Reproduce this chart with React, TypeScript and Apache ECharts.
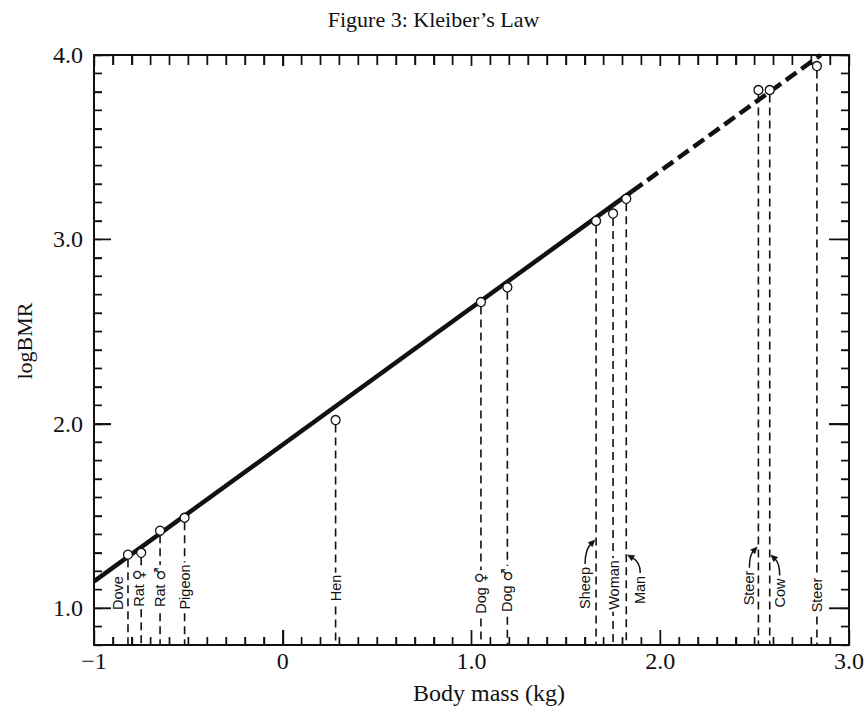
import React, { useEffect, useRef } from "react";
import * as echarts from "echarts";

// ---- data ----
const speciesNames = ["Dove", "Rat ♀", "Rat ♂", "Pigeon", "Hen", "Dog ♀", "Dog ♂", "Sheep", "Woman", "Man", "Steer", "Cow", "Steer"];
const bodyMass = [-0.82, -0.75, -0.65, -0.52, 0.28, 1.05, 1.19, 1.66, 1.75, 1.82, 2.52, 2.58, 2.83];
const logBMR = [1.29, 1.3, 1.42, 1.49, 2.02, 2.66, 2.74, 3.1, 3.14, 3.22, 3.81, 3.81, 3.94];

const fitSolidX = [-1, 1.85];
const fitSolidY = [1.145, 3.26];
const fitDashX = [1.85, 2.85];
const fitDashY = [3.26, 4.0];

const xTickValues = [-1, 0, 1, 2, 3];
const xTickLabels = ["−1", "0", "1.0", "2.0", "3.0"];
const yTickValues = [1, 2, 3, 4];
const yTickLabels = ["1.0", "2.0", "3.0", "4.0"];

const X_MIN = -1;
const X_MAX = 3;
const Y_MIN = 0.8;
const Y_MAX = 4;
const MINOR_STEP = 0.1;

// ---- annotation layout (pixels) ----
const labelLayout = [
  { dx: -9.5, rise: 52, arrow: 0 },
  { dx: -2.5, rise: 57, arrow: 0 },
  { dx: 0, rise: 58, arrow: 0 },
  { dx: 0, rise: 58, arrow: 0 },
  { dx: 0, rise: 57, arrow: 0 },
  { dx: 0, rise: 52, arrow: 0 },
  { dx: 0, rise: 55, arrow: 0 },
  { dx: -11, rise: 57, arrow: 105 },
  { dx: 1, rise: 60, arrow: 0 },
  { dx: 14, rise: 55, arrow: 90 },
  { dx: -9, rise: 57, arrow: 98 },
  { dx: 10, rise: 52, arrow: 90 },
  { dx: 0, rise: 50, arrow: 0 },
];

const TICK = { bottomMajor: 15, bottomMinor: 8, topMajor: 11, topMinor: 10, leftMajor: 17, leftMinor: 8, rightMajor: 20, rightMinor: 8 };

const INK = "#111";
const sansFamily = '"Liberation Sans", "DejaVu Sans", sans-serif';
const labelSize = 14.5;
const symbolFamily = '"DejaVu Sans", sans-serif';
const symbolSize = 15;
const serif = '"Liberation Serif", "DejaVu Serif", serif';

function splitName(name: string): [string, string] {
  const k = name.search(/[♀♂]/);
  if (k < 0) return [name, ""];
  return [name.slice(0, k), name.slice(k)];
}

function measure(name: string): number {
  const c = document.createElement("canvas").getContext("2d");
  const [a, b] = splitName(name);
  if (!c) return name.length * 8;
  c.font = `${labelSize}px ${sansFamily}`;
  let w = c.measureText(a).width;
  if (b) {
    c.font = `${symbolSize}px ${symbolFamily}`;
    w += c.measureText(b).width;
  }
  return w;
}

function frame() {
  return { show: true, onZero: false, lineStyle: { color: INK, width: 2 } };
}

// inward tick marks on the four sides, drawn as thin filled rects placed through the axes' scales
function frameTicks(api: any): any[] {
  const out: any[] = [];
  const yb = api.coord([X_MIN, Y_MIN])[1];
  const yt = api.coord([X_MIN, Y_MAX])[1];
  const xl = api.coord([X_MIN, Y_MIN])[0];
  const xr = api.coord([X_MAX, Y_MIN])[0];
  const w = 1.4;
  const nx = Math.round((X_MAX - X_MIN) / MINOR_STEP);
  for (let k = 1; k < nx; k++) {
    const v = X_MIN + k * MINOR_STEP;
    const major = Math.abs(v - Math.round(v)) < 1e-6;
    const px = api.coord([v, Y_MIN])[0];
    const lb = major ? TICK.bottomMajor : TICK.bottomMinor;
    const lt = major ? TICK.topMajor : TICK.topMinor;
    out.push({ type: "rect", shape: { x: px - w / 2, y: yb - lb, width: w, height: lb }, style: { fill: INK } });
    out.push({ type: "rect", shape: { x: px - w / 2, y: yt, width: w, height: lt }, style: { fill: INK } });
  }
  const ny = Math.round((Y_MAX - Y_MIN) / MINOR_STEP);
  for (let k = 1; k < ny; k++) {
    const v = Y_MIN + k * MINOR_STEP;
    const major = Math.abs(v - Math.round(v)) < 1e-6;
    const py = api.coord([X_MIN, v])[1];
    const ll = major ? TICK.leftMajor : TICK.leftMinor;
    const lr = major ? TICK.rightMajor : TICK.rightMinor;
    out.push({ type: "rect", shape: { x: xl, y: py - w / 2, width: ll, height: w }, style: { fill: INK } });
    out.push({ type: "rect", shape: { x: xr - lr, y: py - w / 2, width: lr, height: w }, style: { fill: INK } });
  }
  return out;
}

export default function App() {
  const ref = useRef<HTMLDivElement>(null);

  useEffect(() => {
    if (!ref.current) return;
    const chart = echarts.init(ref.current, undefined, { renderer: "svg" });
    const widths = speciesNames.map(measure);

    const yLabelFmt = (v: number) => {
      const r = Math.round(v);
      if (Math.abs(v - r) < 1e-6) {
        const k = yTickValues.indexOf(r);
        if (k >= 0) return yTickLabels[k];
      }
      return "";
    };

    const option: any = {
      animation: false,
      title: {
        text: "Figure 3: Kleiber’s Law",
        left: "center",
        top: 3,
        textStyle: { fontFamily: serif, fontSize: 22, fontWeight: "normal", color: INK },
      },
      grid: { left: 94, right: 16, top: 55, bottom: 64 },
      xAxis: [
        {
          type: "value",
          min: X_MIN,
          max: X_MAX,
          interval: 1,
          position: "bottom",
          axisLine: frame(),
          axisTick: { show: true, inside: true, length: TICK.bottomMajor, lineStyle: { color: INK, width: 1.4 } },
          minorTick: { show: true, splitNumber: 10, length: TICK.bottomMinor, lineStyle: { color: INK, width: 1.4 } },
          splitLine: { show: false },
          axisLabel: {
            margin: 4,
            color: INK,
            fontFamily: serif,
            fontSize: 24,
            formatter: (v: number) => {
              const k = xTickValues.indexOf(Math.round(v));
              return k >= 0 ? xTickLabels[k] : "";
            },
          },
        },
        {
          type: "value",
          min: X_MIN,
          max: X_MAX,
          interval: 1,
          position: "top",
          axisLine: frame(),
          axisTick: { show: true, inside: true, length: TICK.topMajor, lineStyle: { color: INK, width: 1.4 } },
          minorTick: { show: true, splitNumber: 10, length: TICK.topMinor, lineStyle: { color: INK, width: 1.4 } },
          splitLine: { show: false },
          axisLabel: { show: false },
        },
      ],
      yAxis: [
        {
          type: "value",
          min: Y_MIN,
          max: Y_MAX,
          interval: MINOR_STEP,
          position: "left",
          axisLine: frame(),
          axisTick: { show: true, inside: true, length: TICK.leftMinor, lineStyle: { color: INK, width: 1.4 } },
          splitLine: { show: false },
          axisLabel: { margin: 11, color: INK, fontFamily: serif, fontSize: 24, formatter: yLabelFmt },
        },
        {
          type: "value",
          min: Y_MIN,
          max: Y_MAX,
          position: "left",
          axisLine: { show: false, onZero: false },
          axisTick: { show: true, inside: true, length: TICK.leftMajor, customValues: yTickValues, lineStyle: { color: INK, width: 1.4 } },
          splitLine: { show: false },
          axisLabel: { show: false },
        },
        {
          type: "value",
          min: Y_MIN,
          max: Y_MAX,
          interval: MINOR_STEP,
          position: "right",
          axisLine: frame(),
          axisTick: { show: true, inside: true, length: TICK.rightMinor, lineStyle: { color: INK, width: 1.4 } },
          splitLine: { show: false },
          axisLabel: { show: false },
        },
        {
          type: "value",
          min: Y_MIN,
          max: Y_MAX,
          position: "right",
          axisLine: { show: false, onZero: false },
          axisTick: { show: true, inside: true, length: TICK.rightMajor, customValues: yTickValues, lineStyle: { color: INK, width: 1.4 } },
          splitLine: { show: false },
          axisLabel: { show: false },
        },
      ],
      graphic: [
        {
          type: "text",
          x: 24,
          y: 341,
          rotation: Math.PI / 2,
          style: { text: "logBMR", x: 0, y: 0, align: "center", verticalAlign: "middle", font: `22px ${serif}`, fill: INK },
        },
        {
          type: "text",
          x: 489,
          y: 693,
          style: { text: "Body mass (kg)", x: 0, y: 0, align: "center", verticalAlign: "middle", font: `24px ${serif}`, fill: INK },
        },
      ],
      series: [
        {
          // fitted line: solid over the measured range, dashed extrapolation
          type: "custom",
          name: "fit",
          xAxisIndex: 0,
          yAxisIndex: 0,
          data: [[fitSolidX[0], fitSolidY[0]]],
          z: 2,
          renderItem: (params: any, api: any) => {
            const solid = fitSolidX.map((x, i) => api.coord([x, fitSolidY[i]]));
            const dashed = fitDashX.map((x, i) => api.coord([x, fitDashY[i]]));
            return {
              type: "group",
              children: [
                { type: "polyline", shape: { points: solid }, style: { stroke: INK, lineWidth: 4.5, fill: null } },
                { type: "polyline", shape: { points: dashed }, style: { stroke: INK, lineWidth: 4.5, lineDash: [13, 6], fill: null } },
              ],
            };
          },
        },
        {
          type: "custom",
          name: "annotations",
          xAxisIndex: 0,
          yAxisIndex: 0,
          data: bodyMass.map((m, i) => [m, logBMR[i], i]),
          encode: { x: 0, y: 1 },
          z: 3,
          renderItem: (params: any, api: any) => {
            const i = api.value(2);
            const x = api.value(0);
            const p = api.coord([x, api.value(1)]);
            const b = api.coord([x, Y_MIN]);
            const L = labelLayout[i];
            const children: any[] = i === 0 ? frameTicks(api) : [];
            children.push({
              type: "line",
              shape: { x1: p[0], y1: p[1] + 4.5, x2: p[0], y2: b[1] },
              style: { stroke: INK, lineWidth: 1.6, lineDash: [8, 5] },
            });
            const cx = p[0] + L.dx;
            const cy = b[1] - L.rise;
            const [a, s] = splitName(speciesNames[i]);
            children.push({
              type: "text",
              x: cx,
              y: cy,
              rotation: Math.PI / 2,
              style: {
                text: s ? `${a}{s|${s}}` : a,
                x: 0,
                y: 0,
                align: "center",
                verticalAlign: "middle",
                fontFamily: sansFamily,
                fontSize: labelSize,
                fill: INK,
                backgroundColor: "#fff",
                padding: [0, 2],
                rich: { s: { fontFamily: symbolFamily, fontSize: symbolSize, fill: INK } },
              },
            });
            if (L.arrow > 0) {
              const sx = cx;
              const sy = cy - widths[i] / 2 - 3;
              const ex = p[0] + (L.dx < 0 ? -1.2 : 1.2);
              const ey = b[1] - L.arrow;
              const cpx = sx;
              const cpy = sy - 0.6 * (sy - ey);
              let dx = ex - cpx;
              let dy = ey - cpy;
              const len = Math.sqrt(dx * dx + dy * dy) || 1;
              dx /= len;
              dy /= len;
              const ah = 6.5;
              const aw = 3;
              const bx = ex - dx * ah;
              const by = ey - dy * ah;
              const nx = -dy;
              const ny = dx;
              children.push({
                type: "bezierCurve",
                shape: { x1: sx, y1: sy, cpx1: cpx, cpy1: cpy, x2: bx + dx, y2: by + dy },
                style: { stroke: INK, lineWidth: 1.5, fill: null },
              });
              children.push({
                type: "polygon",
                shape: {
                  points: [
                    [ex, ey],
                    [bx + nx * aw, by + ny * aw],
                    [bx - nx * aw, by - ny * aw],
                  ],
                },
                style: { fill: INK, stroke: INK, lineWidth: 0.5 },
              });
            }
            return { type: "group", children };
          },
        },
        {
          type: "scatter",
          name: "animals",
          xAxisIndex: 0,
          yAxisIndex: 0,
          data: bodyMass.map((m, i) => [m, logBMR[i]]),
          symbol: "circle",
          symbolSize: 9,
          itemStyle: { color: "#fff", borderColor: INK, borderWidth: 1.3, opacity: 1 },
          z: 5,
        },
      ],
    };

    chart.setOption(option);
    return () => chart.dispose();
  }, []);

  return <div ref={ref} style={{ position: "absolute", left: 0, top: 0, width: 867, height: 709 }} />;
}
